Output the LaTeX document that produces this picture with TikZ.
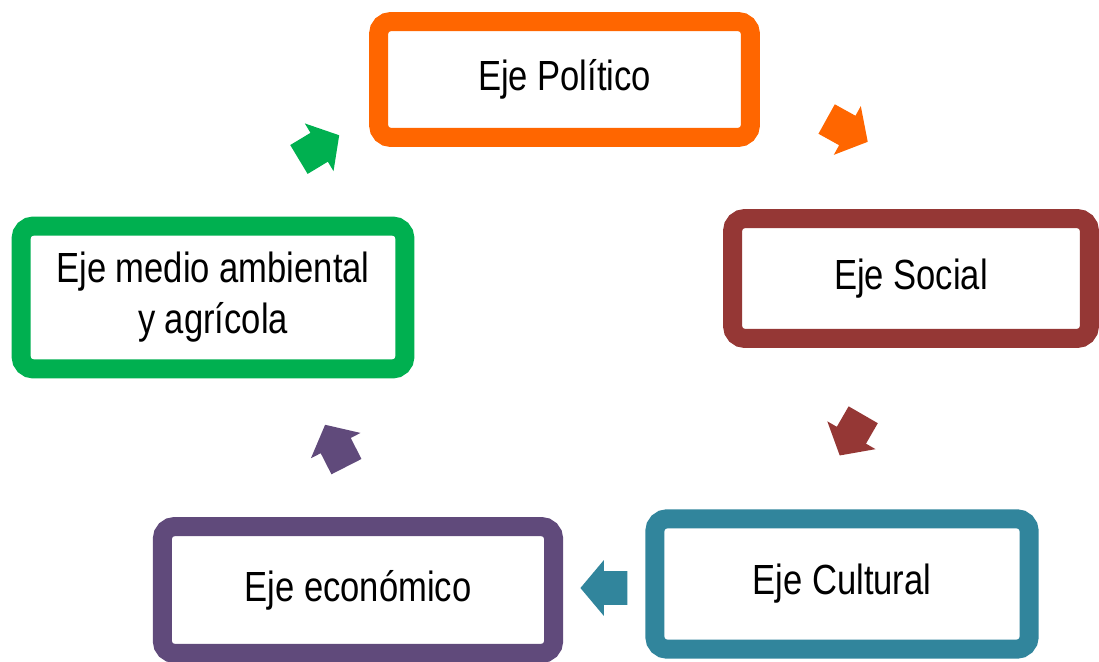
\documentclass[tikz,border=0pt]{standalone}
\usepackage{fontspec}
\setmainfont{Liberation Sans}[FakeStretch=0.82]
\usetikzlibrary{shapes.arrows}

\definecolor{naranja}{HTML}{FF6600}
\definecolor{vino}{HTML}{953735}
\definecolor{azul}{HTML}{31859C}
\definecolor{morado}{HTML}{604A7B}
\definecolor{verde}{HTML}{00B050}

\begin{document}
\begin{tikzpicture}[x=0.02cm,y=-0.02cm,
		eje/.style={draw=#1,line width=0.38cm,rounded corners=0.25cm,fill=white,
			align=center,inner sep=0pt,font=\fontsize{24}{29}\selectfont},
		flecha/.style={single arrow,fill=#1,draw=none,inner xsep=0pt,inner ysep=0.33cm,
			minimum height=0.94cm,minimum width=1.1cm,
			single arrow head extend=0.22cm,single arrow tip angle=100}]
	\useasboundingbox (0,0) rectangle (1099,662);

	% cajas
	\node[eje=naranja,minimum width=7.44cm,minimum height=2.32cm] (pol) at (564.5,79.5) {Eje Político};
	\node[eje=vino,minimum width=7.14cm,minimum height=2.4cm] (soc) at (911,278.5) {Eje Social};
	\node[eje=azul,minimum width=7.49cm,minimum height=2.61cm] (cul) at (842,584) {Eje Cultural};
	\node[eje=morado,minimum width=7.83cm,minimum height=2.54cm] (eco) at (358,590) {Eje económico};
	\node[eje=verde,minimum width=7.68cm,minimum height=2.86cm] (amb) at (213,297.5) {Eje medio ambiental\\y agrícola};

	% flechas
	\node[flecha=naranja,rotate=-29] (f1) at (841,127) {};
	\node[flecha=vino,rotate=-120] (f2) at (855,429) {};
	\node[flecha=azul,rotate=180] (f3) at (611,588) {};
	\node[flecha=morado,rotate=117] (f4) at (339,452) {};
	\node[flecha=verde,rotate=31] (f5) at (313,151) {};
\end{tikzpicture}
\end{document}
